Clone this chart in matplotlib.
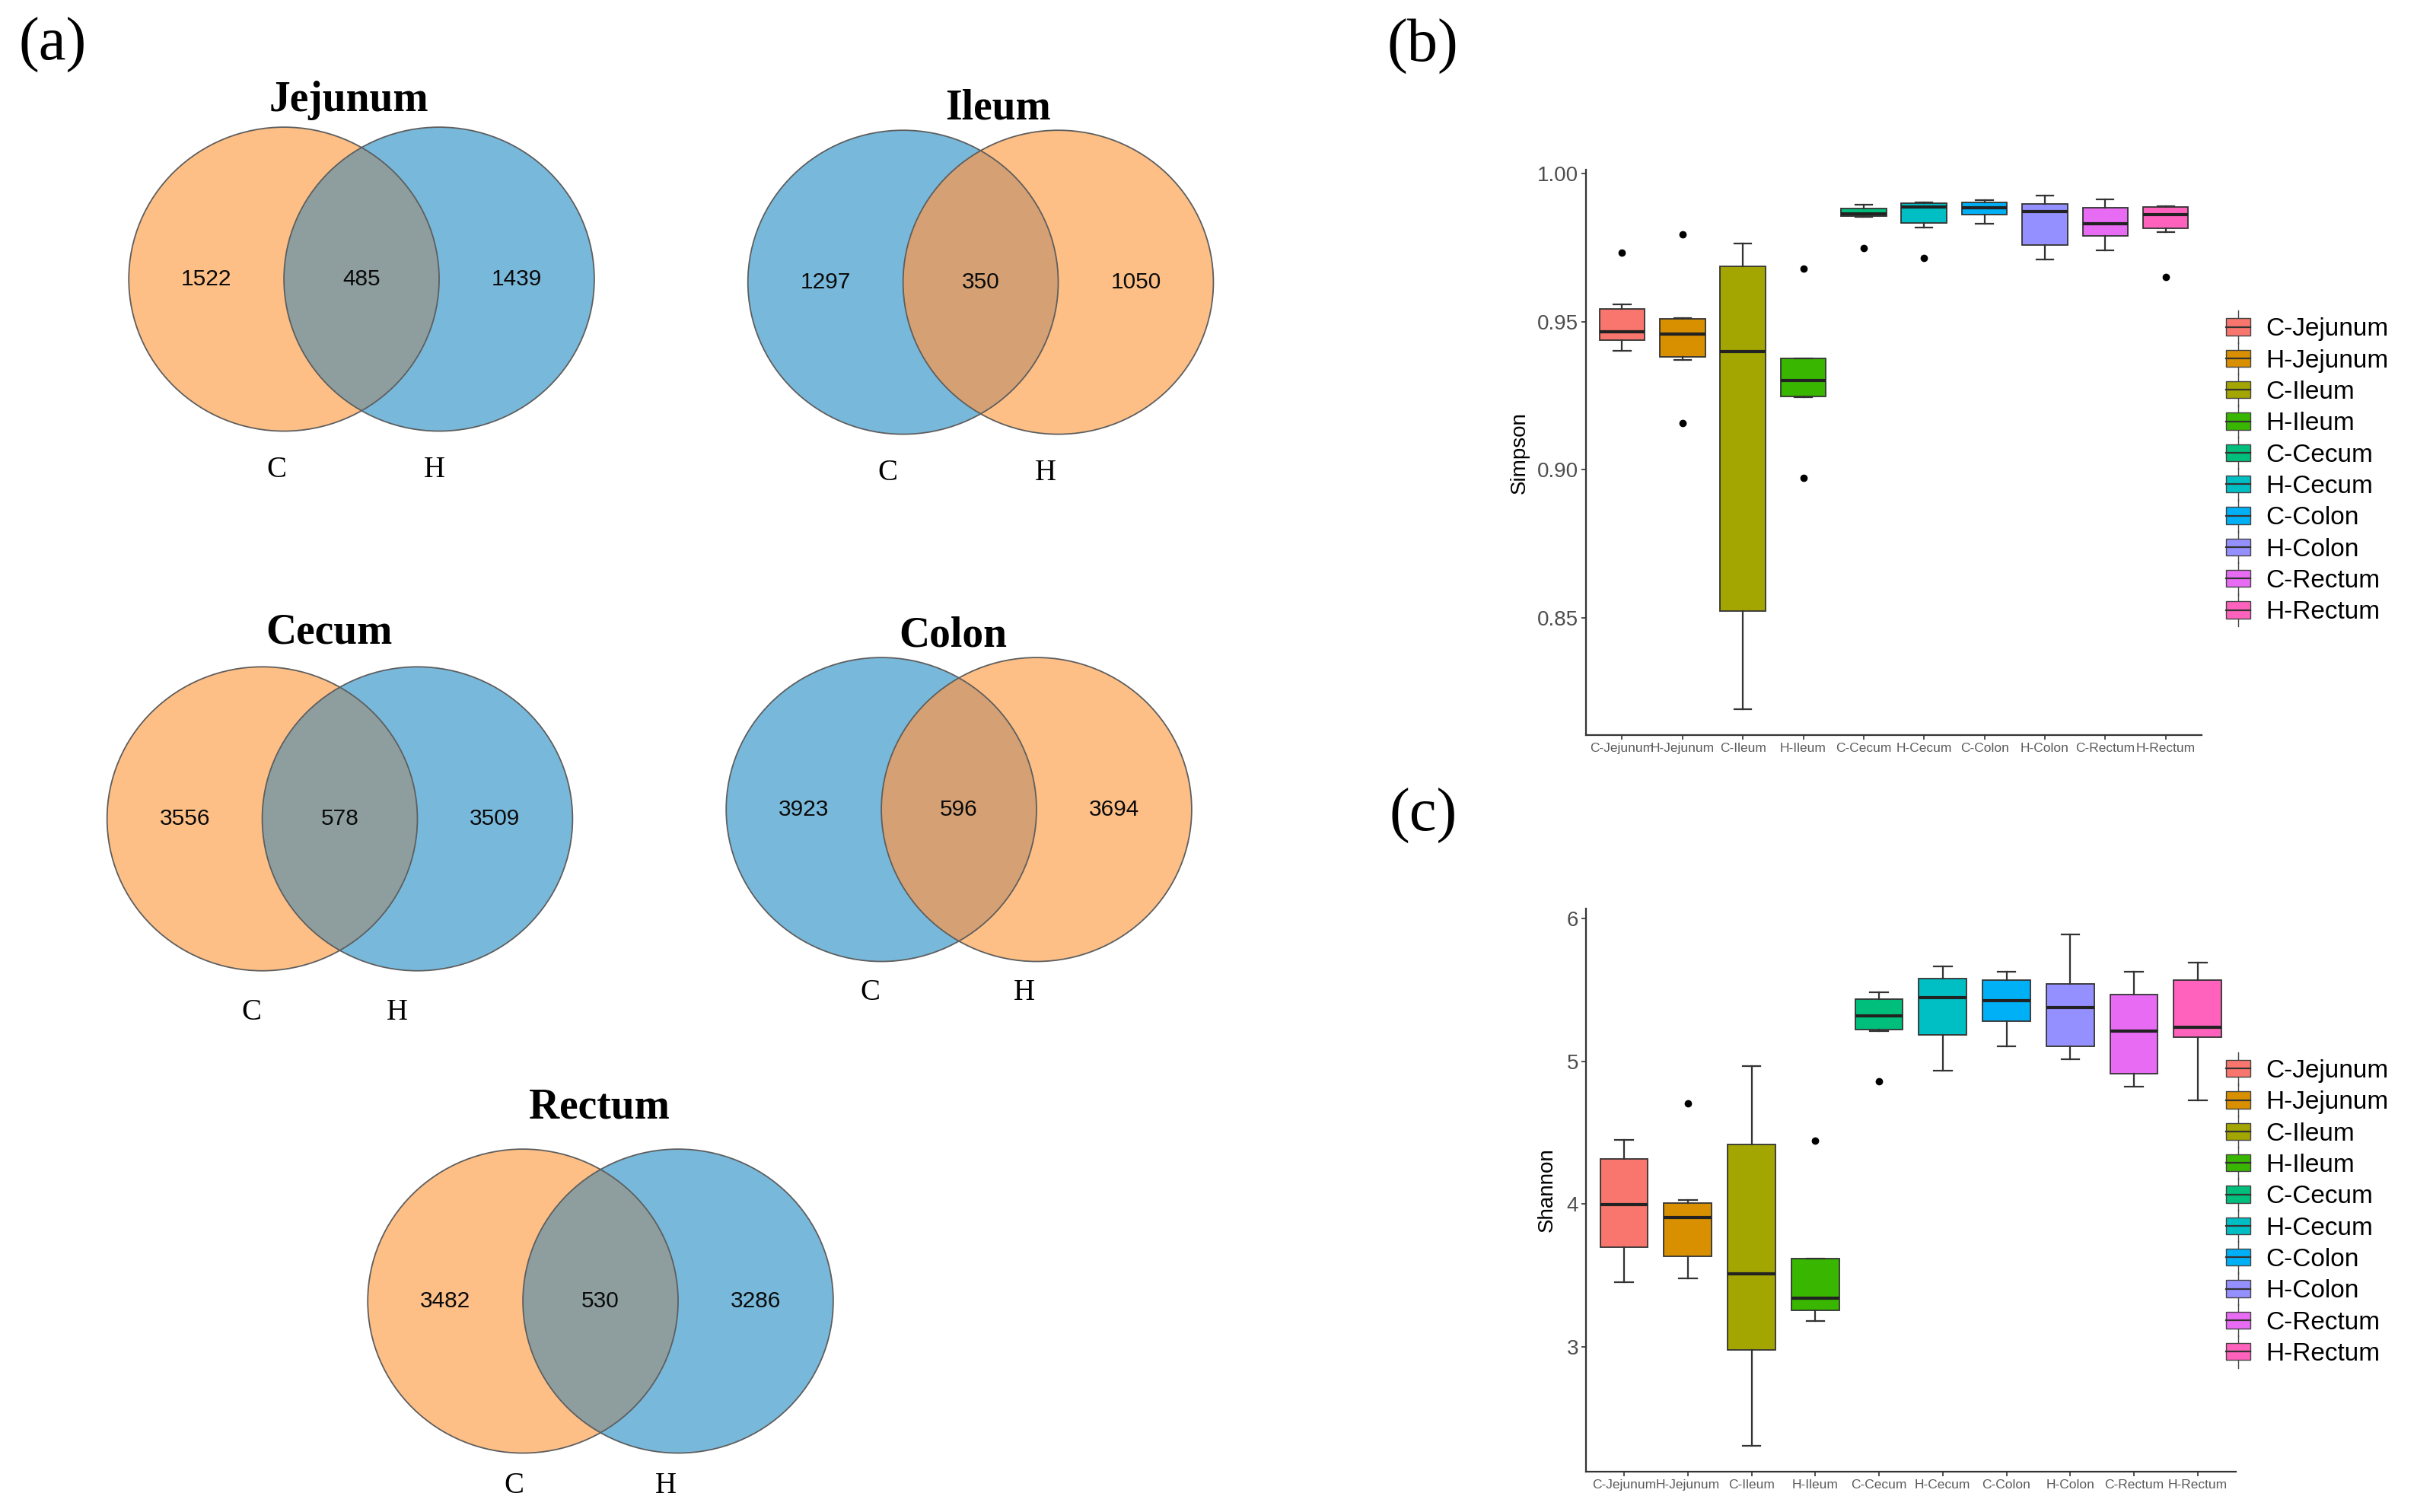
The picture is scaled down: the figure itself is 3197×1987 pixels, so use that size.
import matplotlib
matplotlib.use("Agg")
import matplotlib.pyplot as plt
from matplotlib.patches import Ellipse, Rectangle, Patch
from matplotlib.lines import Line2D
from matplotlib.legend_handler import HandlerBase
from matplotlib.ticker import FormatStrFormatter

# ---------------- data ----------------
venn_titles = ["Jejunum", "Ileum", "Cecum", "Colon", "Rectum"]
venn_c_only = [1522, 1297, 3556, 3923, 3482]
venn_shared = [485, 350, 578, 596, 530]
venn_h_only = [1439, 1050, 3509, 3694, 3286]
venn_left_is_orange = [True, False, True, False, True]
venn_set_labels = ["C", "H"]

groups = ["C-Jejunum", "H-Jejunum", "C-Ileum", "H-Ileum", "C-Cecum",
          "H-Cecum", "C-Colon", "H-Colon", "C-Rectum", "H-Rectum"]
group_colors = ["#F8766D", "#D89000", "#A3A500", "#39B600", "#00BF7D",
                "#00BFC4", "#00B0F6", "#9590FF", "#E76BF3", "#FF62BC"]

simpson_whishi = [0.9558, 0.9512, 0.9763, 0.9377, 0.9895, 0.9903, 0.9910, 0.9926, 0.9913, 0.9891]
simpson_q3     = [0.9542, 0.9509, 0.9686, 0.9377, 0.9883, 0.9901, 0.9903, 0.9897, 0.9886, 0.9887]
simpson_med    = [0.9465, 0.9458, 0.9398, 0.9302, 0.9863, 0.9887, 0.9886, 0.9873, 0.9831, 0.9862]
simpson_q1     = [0.9437, 0.9381, 0.8523, 0.9247, 0.9857, 0.9834, 0.9862, 0.9759, 0.9790, 0.9815]
simpson_whislo = [0.9401, 0.9371, 0.8190, 0.9245, 0.9855, 0.9818, 0.9831, 0.9710, 0.9740, 0.9803]
simpson_fliers = [[0.9732], [0.9796, 0.9158], [], [0.9680, 0.8971], [0.9748],
                  [0.9716], [], [], [], [0.9651]]

shannon_whishi = [4.450, 4.028, 4.964, 3.622, 5.483, 5.660, 5.624, 5.887, 5.627, 5.688]
shannon_q3     = [4.318, 4.008, 4.420, 3.622, 5.436, 5.577, 5.569, 5.539, 5.467, 5.569]
shannon_med    = [3.997, 3.909, 3.511, 3.343, 5.315, 5.442, 5.425, 5.373, 5.213, 5.235]
shannon_q1     = [3.699, 3.633, 2.981, 3.257, 5.221, 5.185, 5.282, 5.102, 4.912, 5.166]
shannon_whislo = [3.456, 3.481, 2.309, 3.185, 5.210, 4.936, 5.102, 5.011, 4.820, 4.727]
shannon_fliers = [[], [4.704], [], [4.445], [4.859], [], [], [], [], []]

simpson_ticks = [0.85, 0.90, 0.95, 1.00]
shannon_ticks = [3, 4, 5, 6]

# ---------------- styling ----------------
SERIF = ["Liberation Serif", "DejaVu Serif"]
SANS = ["Liberation Sans", "DejaVu Sans"]
ORANGE = "#FDBF86"
BLUE = "#78B9DB"
OVER_BLUE_TOP = "#8E9E9F"
OVER_ORANGE_TOP = "#D5A073"
EDGE = "#5E5E5E"

fig = plt.figure(figsize=(31.97, 19.87), dpi=100)

# overlay axes in reference (shrunk) pixel coordinates for the Venn panel
axv = fig.add_axes([0, 0, 1, 1])
axv.set_xlim(0, 1568)
axv.set_ylim(975, 0)
axv.axis("off")

# layout: (left circle centre x, centre y, title x, title y, C x, H x, label y)
venn_layout = [
    (183, 180, 225, 65, 178, 280, 303),
    (582, 182, 643, 70, 572, 674, 305),
    (169, 528, 212, 408, 162, 256, 653),
    (568, 522, 614, 410, 561, 660, 640),
    (337, 839, 386, 714, 331, 429, 958),
]
CW, CH, SEP = 200, 196, 100

for i, title in enumerate(venn_titles):
    lx, cy, tx, ty, cxl, hxl, ly = venn_layout[i]
    rx = lx + SEP
    lc, rc = (ORANGE, BLUE) if venn_left_is_orange[i] else (BLUE, ORANGE)
    over = OVER_BLUE_TOP if rc == BLUE else OVER_ORANGE_TOP
    e_left = Ellipse((lx, cy), CW, CH, facecolor=lc, edgecolor="none")
    e_right = Ellipse((rx, cy), CW, CH, facecolor=rc, edgecolor="none")
    axv.add_patch(e_left)
    axv.add_patch(e_right)
    lens = Ellipse((lx, cy), CW, CH, facecolor=over, edgecolor="none")
    axv.add_patch(lens)
    lens.set_clip_path(e_right)
    for cxx in (lx, rx):
        axv.add_patch(Ellipse((cxx, cy), CW, CH, facecolor="none",
                              edgecolor=EDGE, lw=1.3))
    for xx, val in ((lx - SEP / 2, venn_c_only[i]), (lx + SEP / 2, venn_shared[i]),
                    (rx + SEP / 2, venn_h_only[i])):
        axv.text(xx, cy, str(val), ha="center", va="center", fontsize=21.5,
                 family=SANS, color="#0A0A0A")
    axv.text(tx, ty, title, ha="center", va="center", fontsize=40,
             family=SERIF, fontweight="bold", color="black")
    axv.text(cxl, ly, venn_set_labels[0], ha="center", va="center",
             fontsize=28, family=SERIF, color="black")
    axv.text(hxl, ly, venn_set_labels[1], ha="center", va="center",
             fontsize=28, family=SERIF, color="black")

# panel labels
for lab, (px, py) in zip(["(a)", "(b)", "(c)"], [(34, 29), (917, 30), (917, 526)]):
    axv.text(px, py, lab, ha="center", va="center", fontsize=58,
             family=SERIF, color="black")


# ---------------- box plots ----------------
class BoxKeyHandler(HandlerBase):
    def create_artists(self, legend, orig_handle, xdescent, ydescent,
                       width, height, fontsize, trans):
        cx = width / 2 - xdescent
        cy = height / 2 - ydescent
        vline = Line2D([cx, cx], [cy - 0.95 * height, cy + 0.95 * height],
                       color="#444444", lw=1.0, transform=trans)
        rect = Rectangle((-xdescent, cy - height / 2), width, height,
                         facecolor=orig_handle.get_facecolor(),
                         edgecolor="#444444", lw=1.0, transform=trans)
        med = Line2D([-xdescent, -xdescent + width], [cy, cy],
                     color="#333333", lw=1.6, transform=trans)
        return [vline, rect, med]


def draw_box(ax, whislo, q1, med, q3, whishi, fliers, ticks, fmt, ylabel,
             ylim, legend_anchor, labelpad):
    stats = []
    for k in range(len(groups)):
        stats.append(dict(whislo=whislo[k], q1=q1[k], med=med[k], q3=q3[k],
                          whishi=whishi[k], fliers=fliers[k], label=groups[k]))
    bp = ax.bxp(stats, positions=list(range(len(groups))), widths=0.75,
                capwidths=0.28, patch_artist=True, showfliers=True,
                boxprops=dict(edgecolor="#333333", lw=1.3),
                medianprops=dict(color="#222222", lw=3.0),
                whiskerprops=dict(color="#333333", lw=1.6),
                capprops=dict(color="#333333", lw=1.6),
                flierprops=dict(marker="o", markerfacecolor="black",
                                markeredgecolor="black", markersize=6))
    for patch, col in zip(bp["boxes"], group_colors):
        patch.set_facecolor(col)
    ax.set_xlim(-0.6, len(groups) - 0.4)
    ax.set_ylim(*ylim)
    ax.set_yticks(ticks)
    ax.yaxis.set_major_formatter(FormatStrFormatter(fmt))
    ax.set_xticks(range(len(groups)))
    ax.set_xticklabels(groups, fontsize=12.5, family=SANS, color="#5A5A5A")
    for t in ax.get_yticklabels():
        t.set_fontsize(20)
        t.set_family(SANS)
        t.set_color("#4D4D4D")
    ax.tick_params(axis="both", length=4, width=1.2, color="#333333", pad=3)
    for s in ("top", "right"):
        ax.spines[s].set_visible(False)
    for s in ("left", "bottom"):
        ax.spines[s].set_color("#333333")
        ax.spines[s].set_linewidth(1.6)
    ax.set_ylabel(ylabel, fontsize=20, family=SANS, color="black",
                  labelpad=labelpad)
    handles = [Patch(facecolor=c) for c in group_colors]
    fig.legend(handles, groups, loc="upper left", bbox_to_anchor=legend_anchor,
               frameon=False, prop=dict(family=SANS, size=24),
               handler_map={Patch: BoxKeyHandler()}, handlelength=0.96,
               handleheight=0.66, handletextpad=0.6, labelspacing=0.31,
               borderpad=0, borderaxespad=0)


ax_b = fig.add_axes([0.6518, 0.5138, 0.9050 - 0.6518, 0.8877 - 0.5138])
draw_box(ax_b, simpson_whislo, simpson_q1, simpson_med, simpson_q3,
         simpson_whishi, simpson_fliers, simpson_ticks, "%.2f", "Simpson",
         (0.8103, 1.0013), (0.915, 0.7900), 7)

ax_c = fig.add_axes([0.6518, 0.0267, 0.9190 - 0.6518, 0.3990 - 0.0267])
draw_box(ax_c, shannon_whislo, shannon_q1, shannon_med, shannon_q3,
         shannon_whishi, shannon_fliers, shannon_ticks, "%d", "Shannon",
         (2.130, 6.066), (0.915, 0.2995), 9)

fig.savefig("out.png", dpi=100, facecolor="white")
